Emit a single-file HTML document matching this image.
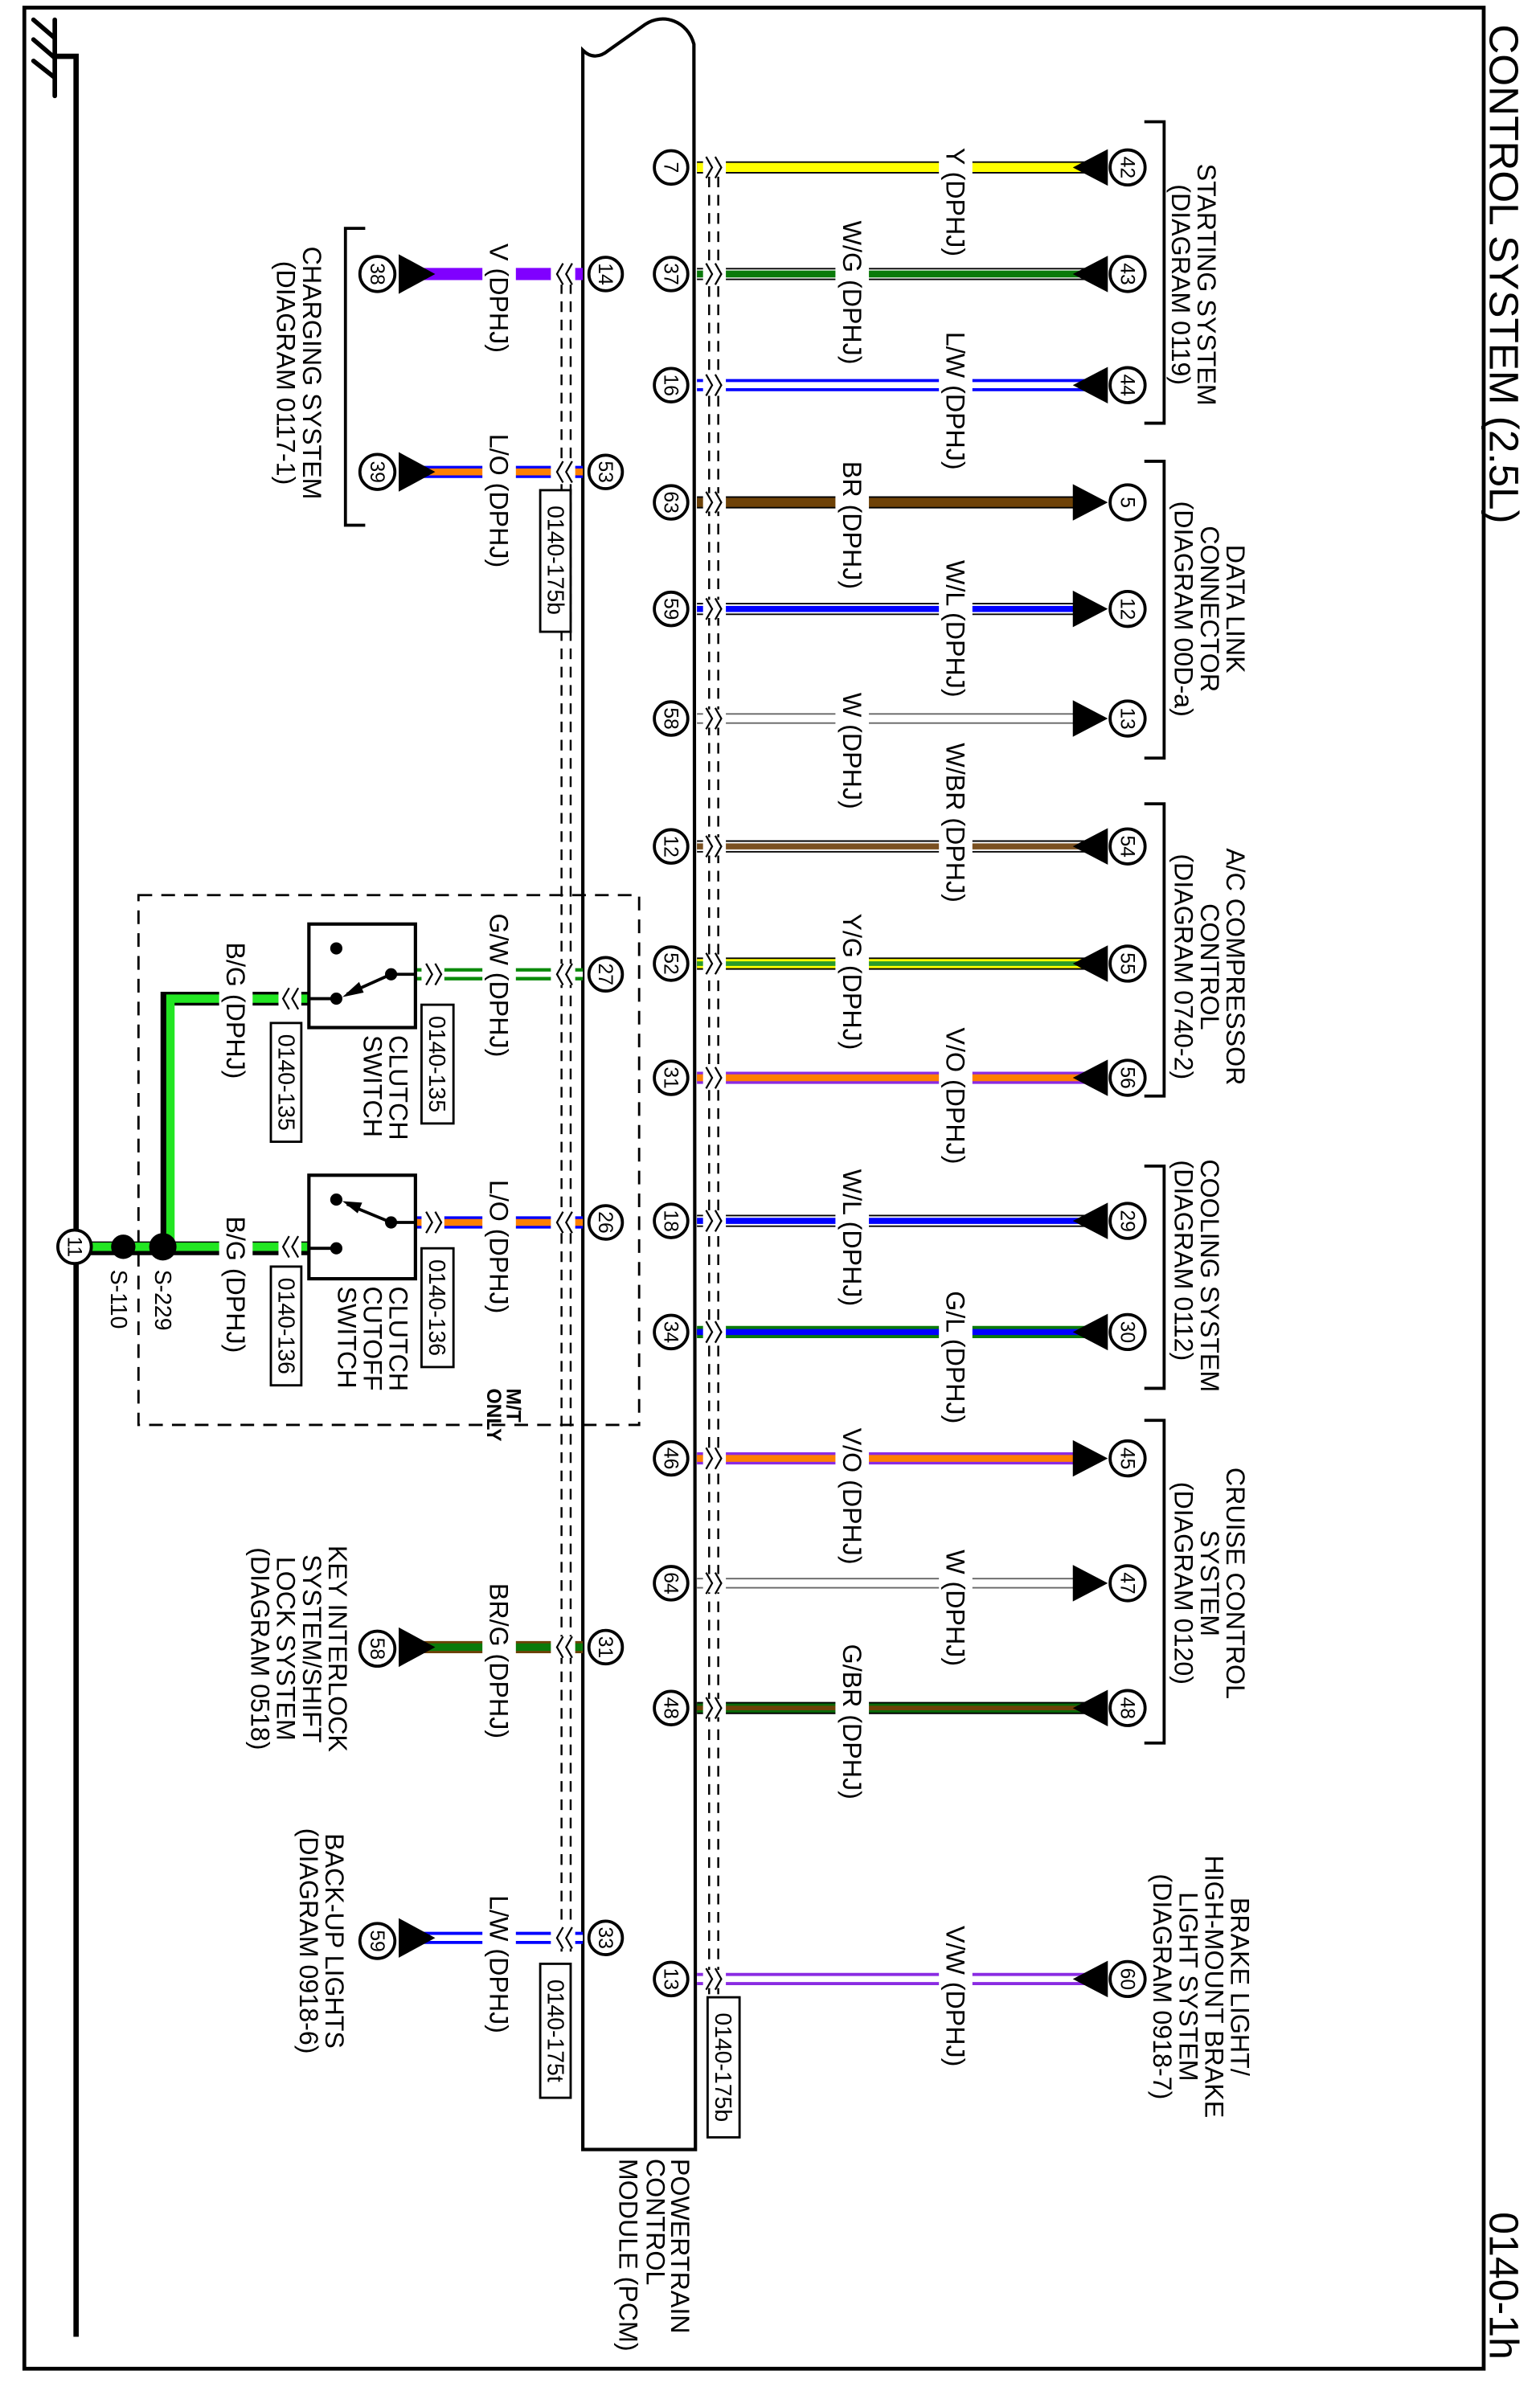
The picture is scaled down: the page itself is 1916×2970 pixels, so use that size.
<!DOCTYPE html>
<html><head><meta charset="utf-8"><style>
html,body{margin:0;padding:0;background:#fff}
svg{display:block}
text{font-family:"Liberation Sans",Arial,sans-serif;fill:#000}
.t{font-size:17px}
.n{font-size:13px}
.b{font-size:15px}
.pc{fill:#fff;stroke:#000;stroke-width:2}
.ln{stroke:#000;fill:none}
</style></head><body>
<svg width="1916" height="2970" viewBox="0 0 1012 1568" preserveAspectRatio="none" xmlns="http://www.w3.org/2000/svg">
<rect x="0" y="0" width="1012" height="1568" fill="#fff"/>
<!-- border -->
<path d="M16,5 H975 V1556 H16 Z" class="ln" stroke-width="2.5"/>
<text transform="translate(979,16) rotate(90)" font-size="27" textLength="328" lengthAdjust="spacingAndGlyphs">CONTROL SYSTEM (2.5L)</text>
<text transform="translate(979,1453) rotate(90)" font-size="27" textLength="97" lengthAdjust="spacingAndGlyphs">0140-1h</text>

<!-- ground -->
<g stroke="#000" stroke-width="3" stroke-linecap="round" fill="none">
<line x1="36" y1="13" x2="36" y2="63"/>
<line x1="22" y1="13" x2="36" y2="25"/>
<line x1="22" y1="26" x2="36" y2="38"/>
<line x1="22" y1="40" x2="36" y2="51"/>
<polyline points="36,37 50,37 50,1535" stroke-width="3.5" stroke-linecap="butt"/>
</g>

<!-- PCM -->
<path d="M383,1412 L383,33 C388,38 394,38 400,33 L424,16 C436,8 452,14 456,29 L457,1412 Z" class="ln" stroke-width="2.2" fill="#fff"/>
<text class="t" transform="translate(441,1418) rotate(90)">POWERTRAIN</text>
<text class="t" transform="translate(425,1418) rotate(90)">CONTROL</text>
<text class="t" transform="translate(407,1418) rotate(90)">MODULE (PCM)</text>

<!-- dashed shield lines -->
<g stroke="#000" stroke-width="1.3" stroke-dasharray="7,5">
<line x1="466" y1="104" x2="466" y2="1310"/>
<line x1="472" y1="104" x2="472" y2="1310"/>
<line x1="369" y1="186" x2="369" y2="1282"/>
<line x1="375" y1="186" x2="375" y2="1282"/>
</g>

<!-- dashed M/T box -->
<rect x="91" y="588" width="329" height="348" fill="none" stroke="#000" stroke-width="1.5" stroke-dasharray="9,6"/>
<text transform="translate(333,912) rotate(90)" font-size="13" font-weight="bold">M/T</text>
<text transform="translate(320,912) rotate(90)" font-size="13" font-weight="bold">ONLY</text>

<!-- ============ RIGHT WIRES ============ -->
<g stroke-linecap="butt">
<!-- 1 Y -->
<line x1="458" y1="110" x2="716" y2="110" stroke="#000" stroke-width="8"/>
<line x1="458" y1="110" x2="716" y2="110" stroke="#ffff00" stroke-width="6"/>
<!-- 2 W/G -->
<line x1="458" y1="180" x2="716" y2="180" stroke="#000" stroke-width="8"/>
<line x1="458" y1="180" x2="716" y2="180" stroke="#fff" stroke-width="6"/>
<line x1="458" y1="180" x2="716" y2="180" stroke="#0a7a0a" stroke-width="4.5"/>
<!-- 3 L/W -->
<line x1="458" y1="253" x2="716" y2="253" stroke="#0000ff" stroke-width="8"/>
<line x1="458" y1="253" x2="716" y2="253" stroke="#fff" stroke-width="4"/>
<!-- 4 BR -->
<line x1="458" y1="330" x2="716" y2="330" stroke="#000" stroke-width="8"/>
<line x1="458" y1="330" x2="716" y2="330" stroke="#6e4207" stroke-width="6"/>
<!-- 5 W/L -->
<line x1="458" y1="400" x2="716" y2="400" stroke="#000" stroke-width="8"/>
<line x1="458" y1="400" x2="716" y2="400" stroke="#fff" stroke-width="6"/>
<line x1="458" y1="400" x2="716" y2="400" stroke="#0000ff" stroke-width="4"/>
<!-- 6 W -->
<line x1="458" y1="472" x2="716" y2="472" stroke="#666" stroke-width="7"/>
<line x1="458" y1="472" x2="716" y2="472" stroke="#fff" stroke-width="5"/>
<!-- 7 W/BR -->
<line x1="458" y1="556" x2="716" y2="556" stroke="#000" stroke-width="8"/>
<line x1="458" y1="556" x2="716" y2="556" stroke="#fff" stroke-width="6"/>
<line x1="458" y1="556" x2="716" y2="556" stroke="#7a5020" stroke-width="4"/>
<!-- 8 Y/G -->
<line x1="458" y1="633" x2="716" y2="633" stroke="#000" stroke-width="8"/>
<line x1="458" y1="633" x2="716" y2="633" stroke="#ffff00" stroke-width="6"/>
<line x1="458" y1="633" x2="716" y2="633" stroke="#2a9a2a" stroke-width="3"/>
<!-- 9 V/O -->
<line x1="458" y1="708" x2="716" y2="708" stroke="#8a2be2" stroke-width="8"/>
<line x1="458" y1="708" x2="716" y2="708" stroke="#ff7f00" stroke-width="4.5"/>
<!-- 10 W/L -->
<line x1="458" y1="802" x2="716" y2="802" stroke="#000" stroke-width="8"/>
<line x1="458" y1="802" x2="716" y2="802" stroke="#fff" stroke-width="6"/>
<line x1="458" y1="802" x2="716" y2="802" stroke="#0000ff" stroke-width="4"/>
<!-- 11 G/L -->
<line x1="458" y1="875" x2="716" y2="875" stroke="#0a7a0a" stroke-width="8"/>
<line x1="458" y1="875" x2="716" y2="875" stroke="#0000ff" stroke-width="4"/>
<!-- 12 V/O -->
<line x1="458" y1="958" x2="716" y2="958" stroke="#8a2be2" stroke-width="8"/>
<line x1="458" y1="958" x2="716" y2="958" stroke="#ff7f00" stroke-width="4.5"/>
<!-- 13 W -->
<line x1="458" y1="1040" x2="716" y2="1040" stroke="#666" stroke-width="7"/>
<line x1="458" y1="1040" x2="716" y2="1040" stroke="#fff" stroke-width="5"/>
<!-- 14 G/BR -->
<line x1="458" y1="1122" x2="716" y2="1122" stroke="#000" stroke-width="8"/>
<line x1="458" y1="1122" x2="716" y2="1122" stroke="#0a6a0a" stroke-width="6"/>
<line x1="458" y1="1122" x2="716" y2="1122" stroke="#6e4207" stroke-width="3"/>
<!-- 15 V/W -->
<line x1="458" y1="1300" x2="716" y2="1300" stroke="#8a2be2" stroke-width="8"/>
<line x1="458" y1="1300" x2="716" y2="1300" stroke="#fff" stroke-width="4"/>
</g>

<!-- right label gaps + labels -->
<g fill="#fff">
<rect x="617" y="104" width="22" height="12"/>
<rect x="549" y="174" width="22" height="12"/>
<rect x="617" y="247" width="22" height="12"/>
<rect x="549" y="324" width="22" height="12"/>
<rect x="617" y="394" width="22" height="12"/>
<rect x="549" y="466" width="22" height="12"/>
<rect x="617" y="550" width="22" height="12"/>
<rect x="549" y="627" width="22" height="12"/>
<rect x="617" y="702" width="22" height="12"/>
<rect x="549" y="796" width="22" height="12"/>
<rect x="617" y="869" width="22" height="12"/>
<rect x="549" y="952" width="22" height="12"/>
<rect x="617" y="1034" width="22" height="12"/>
<rect x="549" y="1116" width="22" height="12"/>
<rect x="617" y="1294" width="22" height="12"/>
</g>
<g class="t">
<text transform="translate(622,97) rotate(90)">Y (DPHJ)</text>
<text transform="translate(554,145) rotate(90)">W/G (DPHJ)</text>
<text transform="translate(622,218) rotate(90)">L/W (DPHJ)</text>
<text transform="translate(554,303) rotate(90)">BR (DPHJ)</text>
<text transform="translate(622,368) rotate(90)">W/L (DPHJ)</text>
<text transform="translate(554,455) rotate(90)">W (DPHJ)</text>
<text transform="translate(622,488) rotate(90)">W/BR (DPHJ)</text>
<text transform="translate(554,600) rotate(90)">Y/G (DPHJ)</text>
<text transform="translate(622,675) rotate(90)">V/O (DPHJ)</text>
<text transform="translate(554,768) rotate(90)">W/L (DPHJ)</text>
<text transform="translate(622,848) rotate(90)">G/L (DPHJ)</text>
<text transform="translate(554,938) rotate(90)">V/O (DPHJ)</text>
<text transform="translate(622,1018) rotate(90)">W (DPHJ)</text>
<text transform="translate(554,1080) rotate(90)">G/BR (DPHJ)</text>
<text transform="translate(622,1265) rotate(90)">V/W (DPHJ)</text>
</g>

<!-- right break marks -->
<g>
<g fill="#fff">
<rect x="462" y="104" width="15" height="12"/><rect x="462" y="174" width="15" height="12"/>
<rect x="462" y="247" width="15" height="12"/><rect x="462" y="324" width="15" height="12"/>
<rect x="462" y="394" width="15" height="12"/><rect x="462" y="466" width="15" height="12"/>
<rect x="462" y="550" width="15" height="12"/><rect x="462" y="627" width="15" height="12"/>
<rect x="462" y="702" width="15" height="12"/><rect x="462" y="796" width="15" height="12"/>
<rect x="462" y="869" width="15" height="12"/><rect x="462" y="952" width="15" height="12"/>
<rect x="462" y="1034" width="15" height="12"/><rect x="462" y="1116" width="15" height="12"/>
<rect x="462" y="1294" width="15" height="12"/>
</g>
<g stroke="#000" stroke-width="1.2" fill="none">
<path d="M464,103 l4,7 l-4,7 M470,103 l4,7 l-4,7"/>
<path d="M464,173 l4,7 l-4,7 M470,173 l4,7 l-4,7"/>
<path d="M464,246 l4,7 l-4,7 M470,246 l4,7 l-4,7"/>
<path d="M464,323 l4,7 l-4,7 M470,323 l4,7 l-4,7"/>
<path d="M464,393 l4,7 l-4,7 M470,393 l4,7 l-4,7"/>
<path d="M464,465 l4,7 l-4,7 M470,465 l4,7 l-4,7"/>
<path d="M464,549 l4,7 l-4,7 M470,549 l4,7 l-4,7"/>
<path d="M464,626 l4,7 l-4,7 M470,626 l4,7 l-4,7"/>
<path d="M464,701 l4,7 l-4,7 M470,701 l4,7 l-4,7"/>
<path d="M464,795 l4,7 l-4,7 M470,795 l4,7 l-4,7"/>
<path d="M464,868 l4,7 l-4,7 M470,868 l4,7 l-4,7"/>
<path d="M464,951 l4,7 l-4,7 M470,951 l4,7 l-4,7"/>
<path d="M464,1033 l4,7 l-4,7 M470,1033 l4,7 l-4,7"/>
<path d="M464,1115 l4,7 l-4,7 M470,1115 l4,7 l-4,7"/>
<path d="M464,1293 l4,7 l-4,7 M470,1293 l4,7 l-4,7"/>
</g>
</g>

<!-- right arrows -->
<g fill="#000">
<polygon points="705,110 728,98 728,122"/>
<polygon points="705,180 728,168 728,192"/>
<polygon points="705,253 728,241 728,265"/>
<polygon points="728,330 705,318 705,342"/>
<polygon points="728,400 705,388 705,412"/>
<polygon points="728,472 705,460 705,484"/>
<polygon points="705,556 728,544 728,568"/>
<polygon points="705,633 728,621 728,645"/>
<polygon points="705,708 728,696 728,720"/>
<polygon points="705,802 728,790 728,814"/>
<polygon points="705,875 728,863 728,887"/>
<polygon points="728,958 705,946 705,970"/>
<polygon points="728,1040 705,1028 705,1052"/>
<polygon points="705,1122 728,1110 728,1134"/>
<polygon points="705,1300 728,1288 728,1312"/>
</g>

<!-- right pin circles (PCM side) -->
<g>
<circle class="pc" cx="441" cy="110" r="11"/><circle class="pc" cx="441" cy="180" r="11"/>
<circle class="pc" cx="441" cy="253" r="11"/><circle class="pc" cx="441" cy="330" r="11"/>
<circle class="pc" cx="441" cy="400" r="11"/><circle class="pc" cx="441" cy="472" r="11"/>
<circle class="pc" cx="441" cy="556" r="11"/><circle class="pc" cx="441" cy="633" r="11"/>
<circle class="pc" cx="441" cy="708" r="11"/><circle class="pc" cx="441" cy="802" r="11"/>
<circle class="pc" cx="441" cy="875" r="11"/><circle class="pc" cx="441" cy="958" r="11"/>
<circle class="pc" cx="441" cy="1040" r="11"/><circle class="pc" cx="441" cy="1122" r="11"/>
<circle class="pc" cx="441" cy="1300" r="11"/>
</g>
<g class="n" text-anchor="middle">
<text transform="translate(436.5,110) rotate(90)">7</text>
<text transform="translate(436.5,180) rotate(90)">37</text>
<text transform="translate(436.5,253) rotate(90)">16</text>
<text transform="translate(436.5,330) rotate(90)">63</text>
<text transform="translate(436.5,400) rotate(90)">59</text>
<text transform="translate(436.5,472) rotate(90)">58</text>
<text transform="translate(436.5,556) rotate(90)">12</text>
<text transform="translate(436.5,633) rotate(90)">52</text>
<text transform="translate(436.5,708) rotate(90)">31</text>
<text transform="translate(436.5,802) rotate(90)">18</text>
<text transform="translate(436.5,875) rotate(90)">34</text>
<text transform="translate(436.5,958) rotate(90)">46</text>
<text transform="translate(436.5,1040) rotate(90)">64</text>
<text transform="translate(436.5,1122) rotate(90)">48</text>
<text transform="translate(436.5,1300) rotate(90)">13</text>
</g>

<!-- right far circles -->
<g>
<circle class="pc" cx="741" cy="110" r="11.5"/><circle class="pc" cx="741" cy="180" r="11.5"/>
<circle class="pc" cx="741" cy="253" r="11.5"/><circle class="pc" cx="741" cy="330" r="11.5"/>
<circle class="pc" cx="741" cy="400" r="11.5"/><circle class="pc" cx="741" cy="472" r="11.5"/>
<circle class="pc" cx="741" cy="556" r="11.5"/><circle class="pc" cx="741" cy="633" r="11.5"/>
<circle class="pc" cx="741" cy="708" r="11.5"/><circle class="pc" cx="741" cy="802" r="11.5"/>
<circle class="pc" cx="741" cy="875" r="11.5"/><circle class="pc" cx="741" cy="958" r="11.5"/>
<circle class="pc" cx="741" cy="1040" r="11.5"/><circle class="pc" cx="741" cy="1122" r="11.5"/>
<circle class="pc" cx="741" cy="1300" r="11.5"/>
</g>
<g class="n" text-anchor="middle">
<text transform="translate(736.5,110) rotate(90)">42</text>
<text transform="translate(736.5,180) rotate(90)">43</text>
<text transform="translate(736.5,253) rotate(90)">44</text>
<text transform="translate(736.5,330) rotate(90)">5</text>
<text transform="translate(736.5,400) rotate(90)">12</text>
<text transform="translate(736.5,472) rotate(90)">13</text>
<text transform="translate(736.5,556) rotate(90)">54</text>
<text transform="translate(736.5,633) rotate(90)">55</text>
<text transform="translate(736.5,708) rotate(90)">56</text>
<text transform="translate(736.5,802) rotate(90)">29</text>
<text transform="translate(736.5,875) rotate(90)">30</text>
<text transform="translate(736.5,958) rotate(90)">45</text>
<text transform="translate(736.5,1040) rotate(90)">47</text>
<text transform="translate(736.5,1122) rotate(90)">48</text>
<text transform="translate(736.5,1300) rotate(90)">60</text>
</g>

<!-- right brackets -->
<g class="ln" stroke-width="2">
<path d="M752,80 H765 V278 H752"/>
<path d="M752,303 H765 V498 H752"/>
<path d="M752,528 H765 V720 H752"/>
<path d="M752,766 H765 V912 H752"/>
<path d="M752,933 H765 V1145 H752"/>
</g>
<!-- right group labels -->
<g class="t" text-anchor="middle">
<text transform="translate(787,187) rotate(90)">STARTING SYSTEM</text>
<text transform="translate(770,187) rotate(90)">(DIAGRAM 0119)</text>
<text transform="translate(806,400) rotate(90)">DATA LINK</text>
<text transform="translate(789,400) rotate(90)">CONNECTOR</text>
<text transform="translate(772,400) rotate(90)">(DIAGRAM 00D-a)</text>
<text transform="translate(806,635) rotate(90)">A/C COMPRESSOR</text>
<text transform="translate(789,635) rotate(90)">CONTROL</text>
<text transform="translate(772,635) rotate(90)">(DIAGRAM 0740-2)</text>
<text transform="translate(789,838) rotate(90)">COOLING SYSTEM</text>
<text transform="translate(772,828) rotate(90)">(DIAGRAM 0112)</text>
<text transform="translate(806,1040) rotate(90)">CRUISE CONTROL</text>
<text transform="translate(789,1040) rotate(90)">SYSTEM</text>
<text transform="translate(772,1040) rotate(90)">(DIAGRAM 0120)</text>
<text transform="translate(809,1305) rotate(90)">BRAKE LIGHT/</text>
<text transform="translate(792,1305) rotate(90)">HIGH-MOUNT BRAKE</text>
<text transform="translate(775,1305) rotate(90)">LIGHT SYSTEM</text>
<text transform="translate(758,1305) rotate(90)">(DIAGRAM 0918-7)</text>
</g>

<!-- ============ LEFT WIRES ============ -->
<g>
<!-- 14 V -->
<line x1="276" y1="180" x2="383" y2="180" stroke="#8000ff" stroke-width="8"/>
<!-- 53 L/O -->
<line x1="276" y1="310" x2="383" y2="310" stroke="#0000ff" stroke-width="8"/>
<line x1="276" y1="310" x2="383" y2="310" stroke="#ff8000" stroke-width="4.5"/>
<!-- 27 G/W -->
<line x1="273" y1="640" x2="383" y2="640" stroke="#0a8a0a" stroke-width="8"/>
<line x1="273" y1="640" x2="383" y2="640" stroke="#fff" stroke-width="3.5"/>
<!-- 26 L/O -->
<line x1="273" y1="803" x2="383" y2="803" stroke="#0000ff" stroke-width="8"/>
<line x1="273" y1="803" x2="383" y2="803" stroke="#ff8000" stroke-width="4.5"/>
<!-- 31 BR/G -->
<line x1="276" y1="1082" x2="383" y2="1082" stroke="#6e4207" stroke-width="8"/>
<line x1="276" y1="1082" x2="383" y2="1082" stroke="#0a7a0a" stroke-width="5"/>
<!-- 33 L/W -->
<line x1="276" y1="1273" x2="383" y2="1273" stroke="#0000ff" stroke-width="8"/>
<line x1="276" y1="1273" x2="383" y2="1273" stroke="#fff" stroke-width="4"/>
<!-- B/G -->
<path d="M203,656 H110 V820" fill="none" stroke="#000" stroke-width="9"/>
<path d="M203,656 H112 V820" fill="none" stroke="#22e622" stroke-width="5.5" stroke-linejoin="miter"/>
<line x1="203" y1="820" x2="50" y2="820" stroke="#000" stroke-width="9"/>
<line x1="203" y1="819" x2="50" y2="819" stroke="#22e622" stroke-width="5.5"/>
</g>
<g fill="#fff">
<rect x="317" y="174" width="22" height="12"/>
<rect x="317" y="304" width="22" height="12"/>
<rect x="317" y="634" width="22" height="12"/>
<rect x="317" y="797" width="22" height="12"/>
<rect x="317" y="1076" width="22" height="12"/>
<rect x="317" y="1267" width="22" height="12"/>
<rect x="144" y="650" width="22" height="12"/>
<rect x="144" y="813" width="22" height="12"/>
<!-- break rects -->
<rect x="362" y="173" width="16" height="14"/><rect x="362" y="303" width="16" height="14"/>
<rect x="362" y="633" width="16" height="14"/><rect x="362" y="796" width="16" height="14"/>
<rect x="362" y="1075" width="16" height="14"/><rect x="362" y="1266" width="16" height="14"/>
<rect x="277" y="633" width="15" height="14"/><rect x="277" y="796" width="15" height="14"/>
<rect x="183" y="649" width="15" height="14"/><rect x="183" y="812" width="15" height="14"/>
</g>
<g stroke="#000" stroke-width="1.2" fill="none">
<path d="M370,173 l-4,7 l4,7 M376,173 l-4,7 l4,7"/>
<path d="M370,303 l-4,7 l4,7 M376,303 l-4,7 l4,7"/>
<path d="M370,633 l-4,7 l4,7 M376,633 l-4,7 l4,7"/>
<path d="M370,796 l-4,7 l4,7 M376,796 l-4,7 l4,7"/>
<path d="M370,1075 l-4,7 l4,7 M376,1075 l-4,7 l4,7"/>
<path d="M370,1266 l-4,7 l4,7 M376,1266 l-4,7 l4,7"/>
<path d="M280,633 l4,7 l-4,7 M286,633 l4,7 l-4,7"/>
<path d="M280,796 l4,7 l-4,7 M286,796 l4,7 l-4,7"/>
<path d="M190,649 l-4,7 l4,7 M196,649 l-4,7 l4,7"/>
<path d="M190,812 l-4,7 l4,7 M196,812 l-4,7 l4,7"/>
</g>
<g class="t">
<text transform="translate(322,160) rotate(90)">V (DPHJ)</text>
<text transform="translate(322,285) rotate(90)">L/O (DPHJ)</text>
<text transform="translate(322,600) rotate(90)">G/W (DPHJ)</text>
<text transform="translate(322,775) rotate(90)">L/O (DPHJ)</text>
<text transform="translate(322,1040) rotate(90)">BR/G (DPHJ)</text>
<text transform="translate(322,1245) rotate(90)">L/W (DPHJ)</text>
<text transform="translate(149,619) rotate(90)">B/G (DPHJ)</text>
<text transform="translate(149,799) rotate(90)">B/G (DPHJ)</text>
</g>

<!-- left arrows -->
<g fill="#000">
<polygon points="286,180 262,167 262,193"/>
<polygon points="286,310 262,297 262,323"/>
<polygon points="286,1082 262,1069 262,1095"/>
<polygon points="286,1273 262,1260 262,1286"/>
</g>
<!-- left circles -->
<g>
<circle class="pc" cx="398" cy="180" r="11"/><circle class="pc" cx="398" cy="310" r="11"/>
<circle class="pc" cx="398" cy="640" r="11"/><circle class="pc" cx="398" cy="803" r="11"/>
<circle class="pc" cx="398" cy="1082" r="11"/><circle class="pc" cx="398" cy="1273" r="11"/>
<circle class="pc" cx="248" cy="180" r="11.5"/><circle class="pc" cx="248" cy="310" r="11.5"/>
<circle class="pc" cx="248" cy="1083" r="11.5"/><circle class="pc" cx="248" cy="1275" r="11.5"/>
</g>
<g class="n" text-anchor="middle">
<text transform="translate(393.5,180) rotate(90)">14</text>
<text transform="translate(393.5,310) rotate(90)">53</text>
<text transform="translate(393.5,640) rotate(90)">27</text>
<text transform="translate(393.5,803) rotate(90)">26</text>
<text transform="translate(393.5,1082) rotate(90)">31</text>
<text transform="translate(393.5,1273) rotate(90)">33</text>
<text transform="translate(243.5,180) rotate(90)">38</text>
<text transform="translate(243.5,310) rotate(90)">39</text>
<text transform="translate(243.5,1083) rotate(90)">58</text>
<text transform="translate(243.5,1275) rotate(90)">59</text>
</g>
<path d="M240,150 H227 V345 H240" class="ln" stroke-width="2"/>
<g class="t" text-anchor="middle">
<text transform="translate(199,245) rotate(90)">CHARGING SYSTEM</text>
<text transform="translate(182,245) rotate(90)">(DIAGRAM 0117-1)</text>
<text transform="translate(216,1083) rotate(90)">KEY INTERLOCK</text>
<text transform="translate(199,1083) rotate(90)">SYSTEM/SHIFT</text>
<text transform="translate(182,1083) rotate(90)">LOCK SYSTEM</text>
<text transform="translate(165,1083) rotate(90)">(DIAGRAM 0518)</text>
<text transform="translate(214,1275) rotate(90)">BACK-UP LIGHTS</text>
<text transform="translate(197,1275) rotate(90)">(DIAGRAM 0918-6)</text>
</g>

<!-- switches -->
<g>
<rect x="203" y="607" width="70" height="68" fill="#fff" stroke="#000" stroke-width="2.2"/>
<rect x="203" y="772" width="70" height="68" fill="#fff" stroke="#000" stroke-width="2.2"/>
<g stroke="#000" stroke-width="2">
<line x1="257" y1="640" x2="273" y2="640"/>
<line x1="203" y1="656" x2="221" y2="656"/>
<line x1="257" y1="640" x2="228" y2="653"/>
<line x1="257" y1="803" x2="273" y2="803"/>
<line x1="203" y1="820" x2="221" y2="820"/>
<line x1="257" y1="803" x2="228" y2="791"/>
</g>
<g fill="#000">
<circle cx="221" cy="623" r="4"/><circle cx="221" cy="656" r="4"/><circle cx="257" cy="640" r="4"/>
<circle cx="221" cy="788" r="4"/><circle cx="221" cy="820" r="4"/><circle cx="257" cy="803" r="4"/>
<polygon points="225,655 236,645 239,652"/>
<polygon points="225,789 238,790 235,797"/>
</g>
</g>
<g class="t">
<text transform="translate(256,680) rotate(90)">CLUTCH</text>
<text transform="translate(239,680) rotate(90)">SWITCH</text>
<text transform="translate(256,845) rotate(90)">CLUTCH</text>
<text transform="translate(239,845) rotate(90)">CUTOFF</text>
<text transform="translate(222,845) rotate(90)">SWITCH</text>
</g>

<!-- splices -->
<circle cx="81" cy="819" r="8" fill="#000"/>
<circle cx="107" cy="819" r="9" fill="#000"/>
<circle class="pc" cx="49" cy="819" r="11"/>
<text class="n" text-anchor="middle" transform="translate(44.5,819) rotate(90)">11</text>
<text transform="translate(73,834) rotate(90)" font-size="15">S-110</text>
<text transform="translate(102,834) rotate(90)" font-size="15">S-229</text>

<!-- connector ID boxes -->
<g fill="#fff" stroke="#000" stroke-width="1.5">
<rect x="355" y="322" width="20" height="93"/>
<rect x="355" y="1290" width="20" height="88"/>
<rect x="465" y="1312" width="21" height="92"/>
<rect x="277" y="660" width="21" height="78"/>
<rect x="178" y="672" width="20" height="78"/>
<rect x="277" y="820" width="21" height="78"/>
<rect x="178" y="832" width="20" height="78"/>
</g>
<g class="b" text-anchor="middle">
<text transform="translate(360,368) rotate(90)">0140-175b</text>
<text transform="translate(360,1334) rotate(90)">0140-175t</text>
<text transform="translate(470,1358) rotate(90)">0140-175b</text>
<text transform="translate(282,699) rotate(90)">0140-135</text>
<text transform="translate(183,711) rotate(90)">0140-135</text>
<text transform="translate(282,859) rotate(90)">0140-136</text>
<text transform="translate(183,871) rotate(90)">0140-136</text>
</g>
</svg>
</body></html>
